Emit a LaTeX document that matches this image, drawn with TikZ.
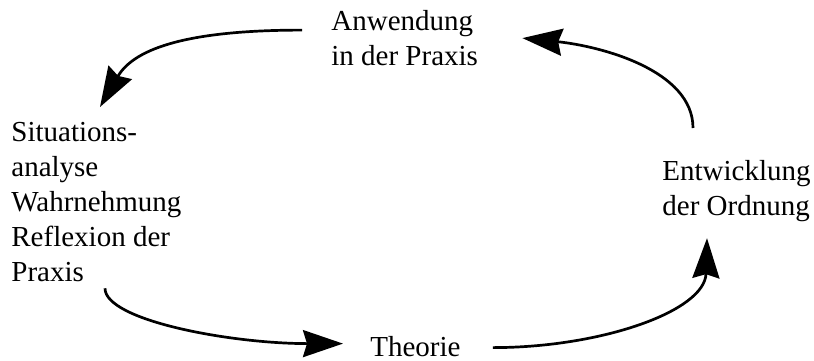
\documentclass[tikz,border=0pt]{standalone}
\usepackage{fontspec}
\setmainfont{LiberationSerif}[Extension=.ttf, UprightFont=*-Regular, BoldFont=*-Bold]
\usetikzlibrary{arrows.meta}
\tikzset{
  stagetext/.style={
    inner sep=0pt, anchor=north west, align=left,
    font=\rmfamily\fontsize{14.5}{17.5}\selectfont
  },
  cycleflow/.style={-{Stealth[length=20pt, width=13.5pt, inset=2pt]}, line width=1.35pt}
}

\begin{document}
\begin{tikzpicture}[x=0.5pt, y=-0.5pt]

\useasboundingbox (0,0) rectangle (814,360);

\node[stagetext] (anw) at (331,10) {Anwendung\\in der Praxis};
\node[stagetext] (sit) at (11,122) {Situations-\\analyse\\Wahrnehmung\\Reflexion der\\Praxis};
\node[stagetext] (the) at (370,336) {Theorie};
\node[stagetext] (ent) at (662,160) {Entwicklung\\der Ordnung};

\draw[cycleflow] ([shift={(-29,-8)}]anw.west) .. controls +(-110,0) and +(35,-60) .. ([shift={(89,-15)}]sit.north west);
\draw[cycleflow] ([shift={(94,6)}]sit.south west) .. controls +(0,32) and +(-113,0) .. ([shift={(-27,-3)}]the.west);
\draw[cycleflow] ([shift={(32,1)}]the.east) .. controls +(108,0) and +(-2,73) .. ([shift={(45,16)}]ent.south west);
\draw[cycleflow] ([shift={(31,-32)}]ent.north west) .. controls +(0,-58) and +(78,8) .. ([shift={(44,0)}]anw.east);

\end{tikzpicture}
\end{document}
